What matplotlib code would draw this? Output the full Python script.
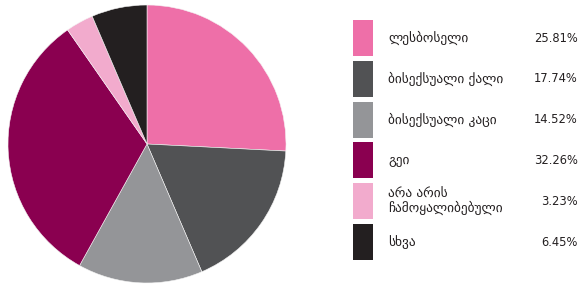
import matplotlib
matplotlib.use("Agg")
import matplotlib.pyplot as plt
from matplotlib.patches import Rectangle

labels = ["ლესბოსელი", "ბისექსუალი ქალი", "ბისექსუალი კაცი", "გეი",
          "არა არის\nჩამოყალიბებული", "სხვა"]
values = [25.81, 17.74, 14.52, 32.26, 3.23, 6.45]
pct_labels = ["25.81%", "17.74%", "14.52%", "32.26%", "3.23%", "6.45%"]
colors = ["#ee6fa8", "#515254", "#949598", "#8a0050", "#f2abcd", "#231f20"]

W, H = 580, 286
fig = plt.figure(figsize=(W / 100, H / 100), dpi=100)
plt.rcParams['font.family'] = ['DejaVu Sans']

# pie: centre (147,144), radius 139 px
cx, cy, r = 147, 144, 139
ax = fig.add_axes([(cx - r) / W, (H - cy - r) / H, 2 * r / W, 2 * r / H])
ax.pie(values, colors=colors, startangle=90, counterclock=False,
       wedgeprops=dict(linewidth=0.4, edgecolor="#f4f4f4"))
ax.set_aspect("equal")
ax.set_xlim(-1, 1)
ax.set_ylim(-1, 1)
ax.axis("off")

# legend drawn by hand
top = 20
step = 40.8
for i, (lab, pct, col) in enumerate(zip(labels, pct_labels, colors)):
    y0 = top + i * step
    fig.patches.append(Rectangle((353 / W, 1 - (y0 + 36) / H), 20 / W, 36 / H,
                                 transform=fig.transFigure, facecolor=col,
                                 edgecolor="none"))
    yc = 1 - (y0 + 18) / H
    fig.text(388 / W, yc, lab, fontsize=9.6, va="center", ha="left",
             color="#231f20", linespacing=1.0)
    fig.text(578 / W, yc, pct, fontsize=8.3, va="center", ha="right",
             color="#231f20")

fig.savefig("out.png", dpi=100)
